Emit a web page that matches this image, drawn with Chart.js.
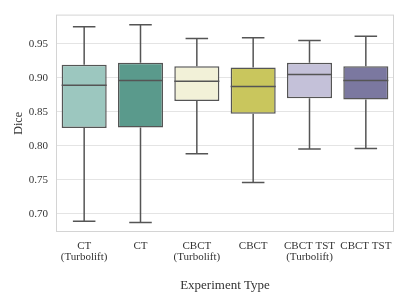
<!DOCTYPE html>
<html>
<head>
<meta charset="utf-8">
<script src="https://cdn.jsdelivr.net/npm/chart.js@4.4.0/dist/chart.umd.min.js"></script>
<style>
  html, body { margin: 0; padding: 0; background: #fff; }
  #wrap { width: 407px; height: 305px; }
</style>
</head>
<body>
<div id="wrap"><canvas id="boxChart" width="407" height="305"></canvas></div>
<script>
// Box plot data
const categories = [['CT', '(Turbolift)'], 'CT', ['CBCT', '(Turbolift)'], 'CBCT', ['CBCT TST', '(Turbolift)'], 'CBCT TST'];
const whiskerLow = [0.689, 0.687, 0.788, 0.746, 0.795, 0.796];
const q1 = [0.826, 0.827, 0.866, 0.847, 0.870, 0.868];
const median = [0.889, 0.896, 0.895, 0.887, 0.905, 0.896];
const q3 = [0.919, 0.922, 0.917, 0.915, 0.922, 0.917];
const whiskerHigh = [0.975, 0.978, 0.958, 0.959, 0.955, 0.961];
const boxColors = ['#9cc7bf', '#5a9a8c', '#f2f1d8', '#c9c65d', '#c4c1d9', '#7b78a0'];
const yTicks = [0.70, 0.75, 0.80, 0.85, 0.90, 0.95];

const lineColor = '#555555';
const fontFamily = '"Liberation Serif", "DejaVu Serif", serif';

// whiskers, caps, medians and frame
const boxPlotExtras = {
    id: 'boxPlotExtras',
    afterDatasetsDraw(chart) {
        const ctx = chart.ctx;
        const yScale = chart.scales.y;
        const meta = chart.getDatasetMeta(0);
        ctx.save();
        ctx.strokeStyle = lineColor;
        ctx.lineWidth = 1.5;
        meta.data.forEach((bar, i) => {
            const x = bar.x;
            const w = bar.width;
            const yQ1 = yScale.getPixelForValue(q1[i]);
            const yQ3 = yScale.getPixelForValue(q3[i]);
            const yLo = yScale.getPixelForValue(whiskerLow[i]);
            const yHi = yScale.getPixelForValue(whiskerHigh[i]);
            const yMed = yScale.getPixelForValue(median[i]);
            ctx.beginPath();
            // whiskers
            ctx.moveTo(x, yQ3); ctx.lineTo(x, yHi);
            ctx.moveTo(x, yQ1); ctx.lineTo(x, yLo);
            // caps
            ctx.moveTo(x - w / 4, yHi); ctx.lineTo(x + w / 4, yHi);
            ctx.moveTo(x - w / 4, yLo); ctx.lineTo(x + w / 4, yLo);
            // median
            ctx.moveTo(x - w / 2, yMed); ctx.lineTo(x + w / 2, yMed);
            ctx.stroke();
        });
        // plot frame
        const a = chart.chartArea;
        ctx.strokeStyle = '#d4d4d4';
        ctx.lineWidth = 1;
        ctx.strokeRect(a.left + 0.5, a.top + 0.5, a.right - a.left - 1, a.bottom - a.top - 1);
        ctx.restore();
    }
};

const ctx = document.getElementById('boxChart').getContext('2d');
const boxChart = new Chart(ctx, {
    type: 'bar',
    data: {
        labels: categories,
        datasets: [{
            label: 'Dice',
            data: q1.map((v, i) => [v, q3[i]]),
            backgroundColor: boxColors,
            borderColor: lineColor,
            borderWidth: 1.5,
            borderSkipped: false,
            barPercentage: 0.8,
            categoryPercentage: 1.0
        }]
    },
    options: {
        responsive: false,
        animation: false,
        layout: {
            padding: { left: 0, right: 13, top: 5, bottom: 8 }
        },
        plugins: {
            legend: { display: false },
            tooltip: { enabled: false }
        },
        scales: {
            x: {
                grid: { display: false },
                border: { display: false },
                ticks: {
                    color: '#333',
                    font: { family: fontFamily, size: 11, lineHeight: 1.0 },
                    padding: 1,
                    maxRotation: 0,
                    autoSkip: false
                },
                title: {
                    display: true,
                    text: 'Experiment Type',
                    color: '#333',
                    font: { family: fontFamily, size: 13 },
                    padding: { top: 14 }
                },
                afterFit: function(scale) { scale.height = 65; }
            },
            y: {
                min: 0.673,
                max: 0.993,
                grid: {
                    color: '#e4e4e4',
                    drawTicks: false
                },
                border: { display: false },
                afterBuildTicks: function(scale) {
                    scale.ticks = yTicks.map(v => ({ value: v }));
                },
                ticks: {
                    color: '#333',
                    font: { family: fontFamily, size: 11 },
                    padding: 8,
                    callback: v => v.toFixed(2)
                },
                title: {
                    display: true,
                    text: 'Dice',
                    color: '#333',
                    font: { family: fontFamily, size: 12 },
                    padding: { top: 12, bottom: 0 }
                },
                afterFit: function(scale) { scale.width = 56; }
            }
        }
    },
    plugins: [boxPlotExtras]
});
</script>
</body>
</html>
